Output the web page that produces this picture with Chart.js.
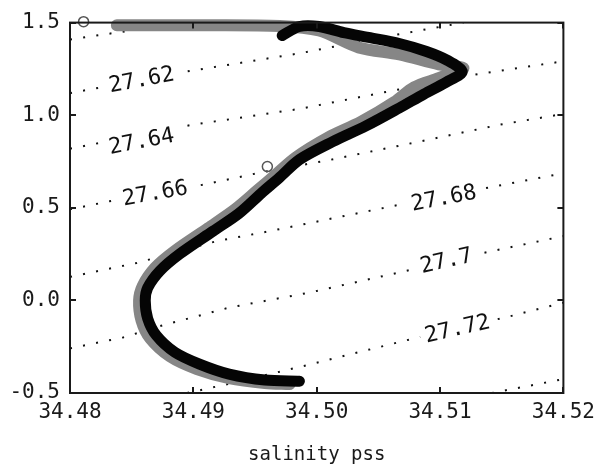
<!DOCTYPE html>
<html><head><meta charset="utf-8">
<script src="https://cdn.jsdelivr.net/npm/chart.js@4.4.1/dist/chart.umd.min.js"></script>
<style>html,body{margin:0;padding:0;background:#fff;} #wrap{width:602px;height:468px;}</style>
</head><body><div id="wrap"><canvas id="c" width="602" height="468"></canvas></div>
<script>
// ---- axis ticks ----
const xTicks = [34.48, 34.49, 34.50, 34.51, 34.52];
const yTicks = [-0.5, 0.0, 0.5, 1.0, 1.5];

// ---- mean profile (black) ----
const profileS = [34.4972, 34.4986, 34.5002, 34.5022, 34.5042, 34.5067, 34.5089, 34.5106, 34.5118,
  34.5105, 34.5087, 34.5067, 34.5040, 34.5013, 34.4986, 34.4970, 34.4955, 34.4937, 34.4916,
  34.4889, 34.4873, 34.4863, 34.4861, 34.4863, 34.4870, 34.4885, 34.4905, 34.4929, 34.4958, 34.4986];
const profileT = [1.430, 1.479, 1.479, 1.446, 1.420, 1.387, 1.344, 1.296, 1.235,
  1.178, 1.114, 1.039, 0.942, 0.857, 0.760, 0.664, 0.578, 0.470, 0.374,
  0.251, 0.160, 0.068, -0.001, -0.098, -0.189, -0.280, -0.344, -0.398, -0.430, -0.436];

// ---- raw samples (gray) ----
const rawS = [34.4838, 34.4905, 34.4970, 34.5002, 34.5034, 34.5067, 34.5099, 34.5119, 34.5099,
  34.5079, 34.5063, 34.5036, 34.5009, 34.4983, 34.4967, 34.4952, 34.4934, 34.4912, 34.4885,
  34.4869, 34.4859, 34.4856, 34.4858, 34.4865, 34.4881, 34.4903, 34.4929, 34.4958, 34.4978];
const rawT = [1.486, 1.486, 1.482, 1.457, 1.366, 1.328, 1.275, 1.253, 1.200,
  1.151, 1.071, 0.964, 0.878, 0.771, 0.680, 0.594, 0.492, 0.390, 0.267,
  0.176, 0.079, -0.001, -0.109, -0.205, -0.302, -0.371, -0.420, -0.446, -0.452];

// ---- open circle markers ----
const markS = [34.4811, 34.4960];
const markT = [1.505, 0.7225];

// ---- isopycnals (sigma-theta) ----
const s2760S = [34.4800, 34.4893];
const s2760T = [1.409, 1.500];
const s2762S = [34.4800, 34.4891, 34.4986, 34.5061, 34.5119];
const s2762T = [1.119, 1.232, 1.334, 1.430, 1.500];
const s2764S = [34.4800, 34.4899, 34.4986, 34.5072, 34.5125, 34.5200];
const s2764T = [0.819, 0.948, 1.034, 1.146, 1.216, 1.291];
const s2766S = [34.4800, 34.4832, 34.4909, 34.4954, 34.5008, 34.5083, 34.5148, 34.5200];
const s2766T = [0.492, 0.535, 0.626, 0.690, 0.755, 0.857, 0.948, 1.007];
const s2768S = [34.4800, 34.4854, 34.4919, 34.4962, 34.5069, 34.5190, 34.5200];
const s2768T = [0.127, 0.202, 0.320, 0.374, 0.519, 0.674, 0.685];
const s2770S = [34.4800, 34.4843, 34.4875, 34.4929, 34.4994, 34.5069, 34.5135, 34.5200];
const s2770T = [-0.259, -0.200, -0.135, -0.039, 0.042, 0.154, 0.256, 0.347];
const s2772S = [34.4895, 34.4928, 34.4992, 34.5079, 34.5156, 34.5200];
const s2772T = [-0.500, -0.452, -0.350, -0.205, -0.087, -0.012];
const s2774S = [34.5142, 34.5200];
const s2774T = [-0.500, -0.425];

// ---- contour labels ----
const labelText = ['27.62', '27.64', '27.66', '27.68', '27.7', '27.72'];
const labelLine = [1, 2, 3, 4, 5, 6];
const labelS = [34.4858, 34.4858, 34.4869, 34.5103, 34.5105, 34.5114];
const labelT = [1.192, 0.860, 0.580, 0.553, 0.215, -0.152];

const contourSets = [[s2760S, s2760T], [s2762S, s2762T], [s2764S, s2764T], [s2766S, s2766T],
  [s2768S, s2768T], [s2770S, s2770T], [s2772S, s2772T], [s2774S, s2774T]];

const pts = (S, T) => S.map((s, i) => ({x: s, y: T[i]}));
const MONO = '"DejaVu Sans Mono", monospace';

const decor = {
  id: 'decor',
  afterDatasetsDraw(chart) {
    const {ctx, chartArea: a, scales: {x, y}} = chart;
    ctx.save();
    // contour labels
    ctx.font = '22px ' + MONO;
    labelText.forEach((txt, k) => {
      const [S, T] = contourSets[labelLine[k]];
      const s = labelS[k];
      let i = 0;
      while (i < S.length - 2 && S[i + 1] < s) i++;
      const x0 = x.getPixelForValue(S[i]), y0 = y.getPixelForValue(T[i]);
      const x1 = x.getPixelForValue(S[i + 1]), y1 = y.getPixelForValue(T[i + 1]);
      const ang = Math.atan2(y1 - y0, x1 - x0);
      const cx = x.getPixelForValue(s), cy = y.getPixelForValue(labelT[k]);
      ctx.save();
      ctx.translate(cx, cy);
      ctx.rotate(ang);
      const w = ctx.measureText(txt).width;
      ctx.fillStyle = '#fff';
      ctx.fillRect(-w / 2 - 5, -10, w + 10, 20);
      ctx.fillStyle = '#111';
      ctx.textAlign = 'center';
      ctx.textBaseline = 'middle';
      ctx.fillText(txt, 0, 1);
      ctx.restore();
    });
    // box
    ctx.strokeStyle = '#1a1a1a';
    ctx.lineWidth = 2;
    ctx.strokeRect(a.left, a.top, a.right - a.left, a.bottom - a.top);
    // inward ticks
    ctx.beginPath();
    xTicks.forEach(v => {
      const px = Math.round(x.getPixelForValue(v));
      ctx.moveTo(px, a.bottom); ctx.lineTo(px, a.bottom - 6);
      ctx.moveTo(px, a.top); ctx.lineTo(px, a.top + 6);
    });
    yTicks.forEach(v => {
      const py = Math.round(y.getPixelForValue(v));
      ctx.moveTo(a.left, py); ctx.lineTo(a.left + 6, py);
      ctx.moveTo(a.right, py); ctx.lineTo(a.right - 6, py);
    });
    ctx.stroke();
    ctx.restore();
  }
};

const datasets = [];
datasets.push({
  data: pts(markS, markT), pointStyle: 'circle', pointRadius: 5, pointBorderWidth: 1.5,
  pointBorderColor: '#555', pointBackgroundColor: 'rgba(0,0,0,0)', showLine: false, clip: false, order: 0
});
datasets.push({
  data: pts(profileS, profileT), showLine: true, borderColor: '#050505', borderWidth: 11,
  tension: 0.3, pointRadius: 0, borderCapStyle: 'round', borderJoinStyle: 'round', clip: false, order: 1
});
datasets.push({
  data: pts(rawS, rawT), showLine: true, borderColor: '#868686', borderWidth: 12,
  tension: 0.3, pointRadius: 0, borderCapStyle: 'round', borderJoinStyle: 'round', clip: false, order: 2
});
contourSets.forEach(([S, T]) => datasets.push({
  data: pts(S, T), showLine: true, borderColor: '#111', borderWidth: 2, borderDash: [2, 11.3],
  tension: 0, pointRadius: 0, order: 3
}));

new Chart(document.getElementById('c'), {
  type: 'scatter',
  data: {datasets},
  options: {
    responsive: false, animation: false, devicePixelRatio: 1,
    layout: {padding: {top: 20, right: 38, left: 0, bottom: 0}},
    plugins: {legend: {display: false}, tooltip: {enabled: false}},
    scales: {
      x: {
        type: 'linear', min: 34.48, max: 34.52,
        afterBuildTicks: s => { s.ticks = xTicks.map(v => ({value: v})); },
        afterFit: s => { s.height = 75; },
        grid: {display: false, drawTicks: false}, border: {display: false},
        ticks: {padding: 7, maxRotation: 0, autoSkip: false, color: '#1a1a1a',
          font: {family: MONO, size: 21}, callback: v => Number(v).toFixed(2)},
        title: {display: true, text: 'salinity pss', color: '#1a1a1a',
          font: {family: MONO, size: 19}, padding: {top: 0, bottom: 2}}
      },
      y: {
        type: 'linear', min: -0.5, max: 1.5,
        afterBuildTicks: s => { s.ticks = yTicks.map(v => ({value: v})); },
        afterFit: s => { s.width = 70; },
        grid: {display: false, drawTicks: false}, border: {display: false},
        ticks: {padding: 10, autoSkip: false, color: '#1a1a1a',
          font: {family: MONO, size: 21}, callback: v => Number(v).toFixed(1)}
      }
    }
  },
  plugins: [decor]
});
</script>
</body></html>
